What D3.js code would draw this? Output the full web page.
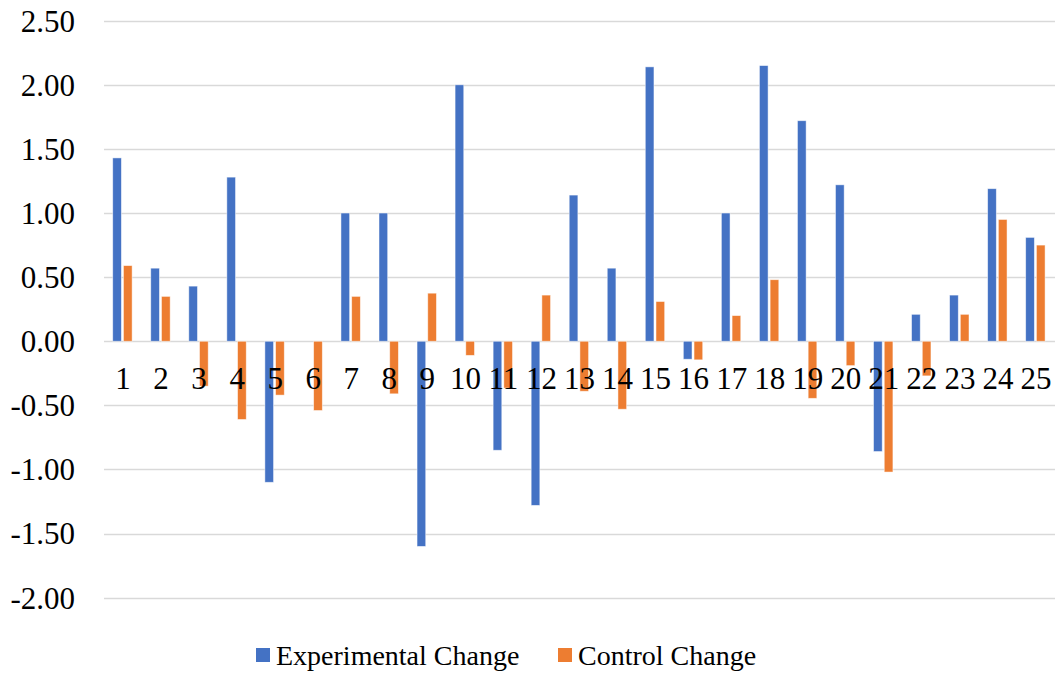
<!DOCTYPE html>
<html lang="en">
<head>
<meta charset="utf-8">
<script src="https://d3js.org/d3.v7.min.js"></script>
<style>
  body { margin: 0; background: #fff; }
</style>
</head>
<body>
<svg id="chart" width="1055" height="673"></svg>
<script>
// data
const categories = d3.range(1, 26).map(String);
const experimental = [1.43, 0.57, 0.43, 1.28, -1.10, 0, 1.00, 1.00, -1.60, 2.00,
                      -0.85, -1.28, 1.14, 0.57, 2.14, -0.14, 1.00, 2.15, 1.72, 1.22,
                      -0.86, 0.21, 0.36, 1.19, 0.81];
const control = [0.59, 0.35, -0.35, -0.61, -0.42, -0.54, 0.35, -0.41, 0.375, -0.11,
                 -0.365, 0.36, -0.39, -0.53, 0.31, -0.145, 0.20, 0.48, -0.445, -0.19,
                 -1.02, -0.27, 0.21, 0.95, 0.75];
const seriesNames = ["Experimental Change", "Control Change"];
const colors = ["#4472C4", "#ED7D31"];
const yTicks = [-2, -1.5, -1, -0.5, 0, 0.5, 1, 1.5, 2, 2.5];

const serif = "'Liberation Serif', 'Times New Roman', 'DejaVu Serif', serif";

const svg = d3.select("#chart");

const x = d3.scaleBand().domain(categories).range([104, 1055]).padding(0);
const y = d3.scaleLinear().domain([-2, 2.5]).range([597.7, 20.7]);
const x1 = d3.scaleBand().domain(seriesNames).range([-10.3, 9.1]).paddingInner(0.19);

// gridlines
svg.append("g")
  .selectAll("line")
  .data(yTicks)
  .join("line")
  .attr("x1", 104).attr("x2", 1055)
  .attr("y1", d => Math.round(y(d)) + 0.5).attr("y2", d => Math.round(y(d)) + 0.5)
  .attr("stroke", "#d9d9d9").attr("stroke-width", 1.3);

// y tick labels
svg.append("g")
  .selectAll("text")
  .data(yTicks)
  .join("text")
  .attr("x", 75)
  .attr("y", d => y(d))
  .attr("dy", "0.35em")
  .attr("text-anchor", "end")
  .style("font-family", serif)
  .style("font-size", "31px")
  .text(d => d.toFixed(2));

// bars
const rows = categories.map((c, i) => ({cat: c, vals: [experimental[i], control[i]]}));
const groups = svg.append("g")
  .selectAll("g")
  .data(rows)
  .join("g")
  .attr("transform", d => `translate(${x(d.cat) + x.bandwidth() / 2},0)`);

groups.selectAll("rect")
  .data(d => d.vals.map((v, k) => ({name: seriesNames[k], v: v, k: k})))
  .join("rect")
  .filter(d => d.v !== 0)
  .attr("x", d => x1(d.name))
  .attr("width", x1.bandwidth())
  .attr("y", d => y(Math.max(0, d.v)))
  .attr("height", d => Math.abs(y(d.v) - y(0)))
  .attr("fill", d => colors[d.k])
  .attr("stroke", "#fff")
  .attr("stroke-opacity", 0.6)
  .attr("stroke-width", 0.8);

// category labels, drawn over the bars
svg.append("g")
  .selectAll("text")
  .data(categories)
  .join("text")
  .attr("x", d => x(d) + x.bandwidth() / 2)
  .attr("y", 389)
  .attr("text-anchor", "middle")
  .style("font-family", serif)
  .style("font-size", "31px")
  .text(d => d);

// legend
const legendX = [256, 558];
const legend = svg.append("g")
  .selectAll("g")
  .data(seriesNames)
  .join("g")
  .attr("transform", (d, i) => `translate(${legendX[i]},648)`);

legend.append("rect")
  .attr("width", 14).attr("height", 14)
  .attr("fill", (d, i) => colors[i]);

legend.append("text")
  .attr("x", 20)
  .attr("y", 7)
  .attr("dy", "0.35em")
  .style("font-family", serif)
  .style("font-size", "28px")
  .text(d => d);
</script>
</body>
</html>
